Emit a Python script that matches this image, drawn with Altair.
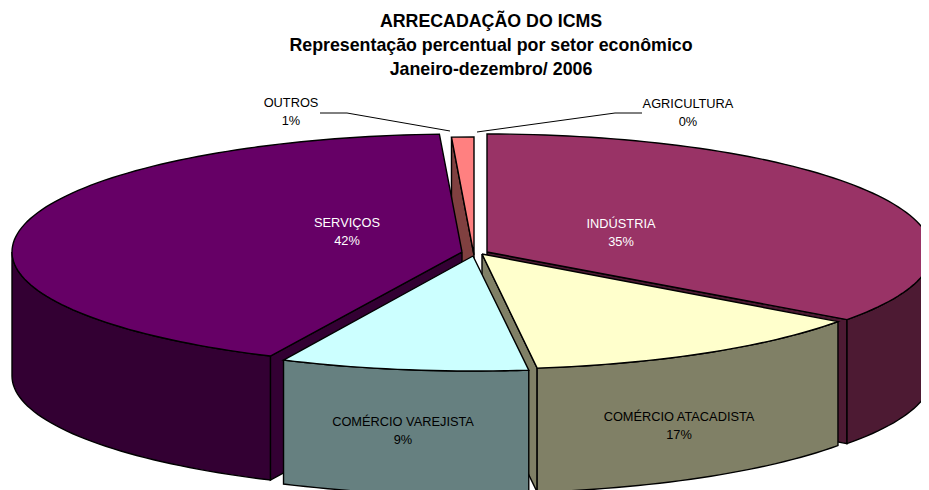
import math
import altair as alt
import pandas as pd

# --- values ---
setores = ["INDÚSTRIA", "COMÉRCIO ATACADISTA", "COMÉRCIO VAREJISTA", "SERVIÇOS", "OUTROS", "AGRICULTURA"]
rotulos = ["35%", "17%", "9%", "42%", "1%", "0%"]
# angular share actually drawn by each slice (the printed labels add up to 104%)
fatias = [35, 13, 9, 42.2, 0.8, 0]
cores_topo = ["#993366", "#FFFFCC", "#CCFFFF", "#660066", "#FF8080", "#CCCCFF"]
cores_lado = ["#4D1A33", "#808066", "#668080", "#330033", "#804040", "#666680"]
titulo = ["ARRECADAÇÃO DO ICMS", "Representação percentual por setor econômico", "Janeiro-dezembro/ 2006"]

# --- 3-D pie geometry (the scales below use the reference's pixel space as units) ---
W, H = 913, 482
RX = {0: 445, 1: 440, 2: 445, 3: 450, 4: 448}
RY_BACK, RY_FRONT, DEPTH = 118, 115, 124
APEX = {0: (487, 252), 1: (482, 254), 2: (473, 256), 3: (462, 252), 4: (474, 255)}
LABEL_POS = {0: (621, 224), 1: (679, 417), 2: (403, 422), 3: (347, 223), 4: (291, 103), 5: (688, 104)}
LABEL_COL = {0: "white", 3: "white"}

ang = []
acc = 0
for s in fatias:
    ang.append((acc * 3.6, (acc + s) * 3.6))
    acc += s


def pt(i, t, h=0):
    ax, ay = APEX[i]
    r = math.radians(t)
    c = math.cos(r)
    return ax + RX[i] * math.sin(r), ay - (RY_BACK if c > 0 else RY_FRONT) * c + h


def arc(i, t0, t1, h=0, step=1.5):
    n = max(2, int(abs(t1 - t0) / step) + 1)
    return [pt(i, t0 + (t1 - t0) * k / (n - 1), h) for k in range(n)]


def face(i, t):
    ax, ay = APEX[i]
    o = pt(i, t)
    return [(ax, ay), o, (o[0], o[1] + DEPTH), (ax, ay + DEPTH)]


X = alt.X("x:Q", scale=alt.Scale(domain=[8, 8 + W], nice=False, zero=False), axis=None)
Y = alt.Y("y:Q", scale=alt.Scale(domain=[8 + H, 8], nice=False, zero=False), axis=None)


def poly(points, fill):
    pts = list(points) + [points[0]]
    df = pd.DataFrame({"x": [p[0] for p in pts], "y": [p[1] for p in pts], "k": range(len(pts))})
    return alt.Chart(df).mark_line(fill=fill, stroke="black", strokeWidth=1.4, clip=True, interpolate="linear").encode(
        x=X, y=Y, order=alt.Order("k:Q"))


layers = []
for i in [4, 0, 3, 1, 2]:
    t0, t1 = ang[i]
    if math.cos(math.radians(t0 - 90)) < 0:
        layers.append(poly(face(i, t0), cores_lado[i]))
    if math.cos(math.radians(t1 + 90)) < 0:
        layers.append(poly(face(i, t1), cores_lado[i]))
    a, b = max(t0, 90), min(t1, 270)
    if a < b:
        layers.append(poly(arc(i, a, b) + arc(i, b, a, DEPTH), cores_lado[i]))
    layers.append(poly([APEX[i]] + arc(i, t0, t1), cores_topo[i]))

# leader lines of the two outside labels
for seg in ([(320, 113), (347, 113), (450, 131)], [(642, 113), (615, 113), (477, 132)]):
    d = pd.DataFrame({"x": [p[0] for p in seg], "y": [p[1] for p in seg], "k": range(3)})
    layers.append(alt.Chart(d).mark_line(stroke="black", strokeWidth=1).encode(x=X, y=Y, order=alt.Order("k:Q")))

rows = []
for i, nome in enumerate(setores):
    x, y = LABEL_POS[i]
    rows.append({"x": x, "y": y, "t": nome, "c": LABEL_COL.get(i, "black")})
    rows.append({"x": x, "y": y + 17.5, "t": rotulos[i], "c": LABEL_COL.get(i, "black")})
layers.append(alt.Chart(pd.DataFrame(rows)).mark_text(font="Liberation Sans", fontSize=12.8, baseline="middle", align="center").encode(
    x=X, y=Y, text="t:N", color=alt.Color("c:N", scale=None)))

tit = pd.DataFrame({"x": [491, 491, 491], "y": [22, 46, 70], "t": titulo})
layers.append(alt.Chart(tit).mark_text(font="Liberation Sans", fontSize=17.8, fontWeight="bold", baseline="middle", align="center").encode(
    x=X, y=Y, text="t:N"))

chart = alt.layer(*layers).properties(width=W, height=H, padding=0, autosize=alt.AutoSizeParams(type="none")).configure_view(stroke=None)
chart.save("out.html", embed_options={"renderer": "svg", "actions": False})
